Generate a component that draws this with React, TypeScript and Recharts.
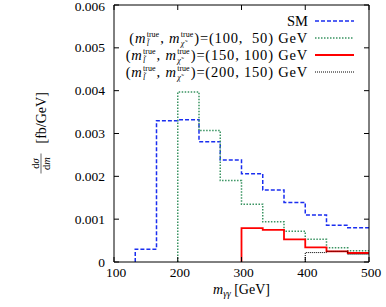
import React from 'react';
import { ComposedChart, Line, XAxis, YAxis, Legend, Label } from 'recharts';

// Bin edges of the histogram (GeV)
const binEdges = [100, 133.33, 166.67, 200, 233.33, 266.67, 300, 333.33, 366.67, 400, 433.33, 466.67, 500];

// Values per bin (fb/GeV); null = no bin drawn
const smValues = [null, 0.0003, 0.0033, 0.00332, 0.00281, 0.00238, 0.00206, 0.00168, 0.00139, 0.0011, 0.00086, 0.0008];
const m100Values = [null, null, null, 0.00397, 0.00307, 0.0019, 0.00135, 0.00094, 0.00072, 0.00053, 0.00033, 0.00026];
const m150Values = [null, null, null, null, null, null, 0.00079, 0.00075, 0.00053, 0.00034, 0.00025, 0.00021];
const m200Values = [null, null, null, null, null, null, null, null, null, 0.00022, 0.00025, 0.00018];

const seriesNames = ['SM', '(100,  50)', '(150, 100)', '(200, 150)'];

const xTicks = [100, 200, 300, 400, 500];
const yTicks = [0, 0.001, 0.002, 0.003, 0.004, 0.005, 0.006];
const yTickLabels = ['0', '0.001', '0.002', '0.003', '0.004', '0.005', '0.006'];

const FONT = '"Liberation Serif", "Times New Roman", serif';
const TICK = 5;

function toSteps(values: (number | null)[]) {
  const pts: { x: number; y: number }[] = [];
  let started = false;
  let last = 0;
  values.forEach((v, i) => {
    if (v === null) return;
    if (!started) {
      pts.push({ x: binEdges[i], y: 0 });
      started = true;
    }
    pts.push({ x: binEdges[i], y: v });
    last = v;
  });
  pts.push({ x: binEdges[binEdges.length - 1], y: last });
  return pts;
}

const smData = toSteps(smValues);
const m100Data = toSteps(m100Values);
const m150Data = toSteps(m150Values);
const m200Data = toSteps(m200Values);

const BottomTick = (props: any) => {
  const { x, y, payload } = props;
  return (
    <g>
      <line x1={x} x2={x} y1={y} y2={y - TICK} stroke="#000" strokeWidth={1} />
      <text x={x + 2} y={y + 15} textAnchor="middle" fontFamily={FONT} fontSize={13.5} fill="#000">
        {payload.value}
      </text>
    </g>
  );
};

const TopTick = (props: any) => {
  const { x, y } = props;
  return <line x1={x} x2={x} y1={y} y2={y + TICK} stroke="#000" strokeWidth={1} />;
};

const LeftTick = (props: any) => {
  const { x, y, payload } = props;
  const idx = yTicks.indexOf(payload.value);
  const isTop = idx === yTicks.length - 1;
  return (
    <g>
      <line x1={x} x2={x + TICK} y1={y} y2={y} stroke="#000" strokeWidth={1} />
      <text
        x={x - 9}
        y={isTop ? y + 6 : y + 4.5}
        textAnchor="end"
        fontFamily={FONT}
        fontSize={13.5}
        fill="#000"
      >
        {idx >= 0 ? yTickLabels[idx] : payload.value}
      </text>
    </g>
  );
};

const RightTick = (props: any) => {
  const { x, y } = props;
  return <line x1={x} x2={x - TICK} y1={y} y2={y} stroke="#000" strokeWidth={1} />;
};

const Stack = ({ sub }: { sub: string }) => (
  <span
    style={{
      display: 'inline-block',
      position: 'relative',
      width: 14,
      height: 0,
      verticalAlign: 'baseline',
      letterSpacing: 0,
    }}
  >
    <span
      style={{ position: 'absolute', left: 0.5, top: -12, fontSize: 8, lineHeight: '8px', fontStyle: 'normal' }}
    >
      true
    </span>
    <span
      style={{ position: 'absolute', left: 0.5, top: -3, fontSize: 8, lineHeight: '8px', fontStyle: 'italic' }}
    >
      {sub}
    </span>
  </span>
);

const legendLabel = (name: string) => {
  if (name === 'SM') return <span>SM</span>;
  return (
    <span style={{ whiteSpace: 'pre', letterSpacing: 0.8 }}>
      (<i>m</i>
      <Stack sub={'l\u0303'} />, <i>m</i>
      <Stack sub={'\u03c7\u0303'} />
      ){'='}
      {name} GeV
    </span>
  );
};

const renderLegend = (props: any) => {
  const payload = [...(props.payload || [])].sort(
    (a: any, b: any) => seriesNames.indexOf(a.value) - seriesNames.indexOf(b.value)
  );
  return (
    <div style={{ fontFamily: FONT, fontSize: 14.5, color: '#000' }}>
      {payload.map((entry: any, i: number) => {
        const p = entry.payload || {};
        return (
          <div
            key={i}
            style={{
              height: 17,
              lineHeight: '17px',
              display: 'flex',
              alignItems: 'center',
              justifyContent: 'flex-end',
              paddingRight: 6,
            }}
          >
            {legendLabel(entry.value)}
            <svg width={39} height={10} style={{ marginLeft: 7, display: 'block' }}>
              <line
                x1={0}
                x2={39}
                y1={5}
                y2={5}
                stroke={entry.color}
                strokeWidth={p.strokeWidth || 1.5}
                strokeDasharray={p.strokeDasharray}
              />
            </svg>
          </div>
        );
      })}
    </div>
  );
};

const XLabel = (props: any) => {
  const vb = props.viewBox || { x: 114, y: 262, width: 255 };
  const cx = vb.x + vb.width / 2;
  return (
    <text x={cx} y={vb.y + 32} textAnchor="middle" fontFamily={FONT} fontSize={14} fill="#000">
      <tspan fontStyle="italic">m</tspan>
      <tspan fontStyle="italic" fontSize={9.5} dy={3}>γγ</tspan>
      <tspan dy={-3}> [GeV]</tspan>
    </text>
  );
};

const YLabel = (props: any) => {
  const vb = props.viewBox || { x: 0, y: 5, width: 114, height: 257 };
  const cx = 42;
  const cy = vb.y + vb.height / 2;
  return (
    <g transform={`translate(${cx},${cy}) rotate(-90)`} fontFamily={FONT} fill="#000">
      <text x={-30} y={-3} textAnchor="middle" fontSize={10.5}>
        d<tspan fontStyle="italic">σ</tspan>
      </text>
      <line x1={-40} x2={-20} y1={-1} y2={-1} stroke="#000" strokeWidth={0.6} />
      <text x={-30} y={7.5} textAnchor="middle" fontSize={10.5}>
        d<tspan fontStyle="italic">m</tspan>
      </text>
      <text x={-10} y={4} textAnchor="start" fontSize={14}>
        [fb/GeV]
      </text>
    </g>
  );
};

export default function App() {
  return (
    <div style={{ position: 'absolute', left: 0, top: 0, width: 386, height: 307, background: '#fff' }}>
      <ComposedChart width={386} height={307} margin={{ top: 0, right: 0, bottom: 0, left: 0 }}>
        <XAxis
          dataKey="x"
          type="number"
          domain={[100, 500]}
          ticks={xTicks}
          allowDataOverflow
          height={45}
          tickSize={0}
          tickMargin={0}
          tickLine={false}
          tick={<BottomTick />}
          axisLine={{ stroke: '#000', strokeWidth: 1 }}
          interval={0}
        >
          <Label content={<XLabel />} />
        </XAxis>
        <XAxis
          xAxisId="t"
          orientation="top"
          dataKey="x"
          type="number"
          domain={[100, 500]}
          ticks={xTicks}
          allowDataOverflow
          height={5}
          tickSize={0}
          tickMargin={0}
          tickLine={false}
          tick={<TopTick />}
          axisLine={{ stroke: '#000', strokeWidth: 1 }}
          interval={0}
        />
        <YAxis
          type="number"
          domain={[0, 0.006]}
          ticks={yTicks}
          allowDataOverflow
          width={114}
          tickSize={0}
          tickMargin={0}
          tickLine={false}
          tick={<LeftTick />}
          axisLine={{ stroke: '#000', strokeWidth: 1 }}
          interval={0}
        >
          <Label content={<YLabel />} />
        </YAxis>
        <YAxis
          yAxisId="r"
          orientation="right"
          type="number"
          domain={[0, 0.006]}
          ticks={yTicks}
          allowDataOverflow
          width={17}
          tickSize={0}
          tickMargin={0}
          tickLine={false}
          tick={<RightTick />}
          axisLine={{ stroke: '#000', strokeWidth: 1 }}
          interval={0}
        />
        <Legend
          layout="vertical"
          align="center"
          verticalAlign="middle"
          content={renderLegend}
          wrapperStyle={{ left: 50, top: 12.5, width: 310, height: 'auto' }}
        />
        <Line
          data={smData}
          dataKey="y"
          name={seriesNames[0]}
          type="stepAfter"
          stroke="#1a2ef0"
          strokeWidth={1.5}
          strokeDasharray="4 2"
          dot={false}
          activeDot={false}
          isAnimationActive={false}
        />
        <Line
          data={m100Data}
          dataKey="y"
          name={seriesNames[1]}
          type="stepAfter"
          stroke="#3a9462"
          strokeWidth={1.5}
          strokeDasharray="1.5 1.5"
          dot={false}
          activeDot={false}
          isAnimationActive={false}
        />
        <Line
          data={m150Data}
          dataKey="y"
          name={seriesNames[2]}
          type="stepAfter"
          stroke="#ff0000"
          strokeWidth={1.8}
          dot={false}
          activeDot={false}
          isAnimationActive={false}
        />
        <Line
          data={m200Data}
          dataKey="y"
          name={seriesNames[3]}
          type="stepAfter"
          stroke="#000000"
          strokeWidth={1}
          strokeDasharray="1 1"
          dot={false}
          activeDot={false}
          isAnimationActive={false}
        />
      </ComposedChart>
    </div>
  );
}
